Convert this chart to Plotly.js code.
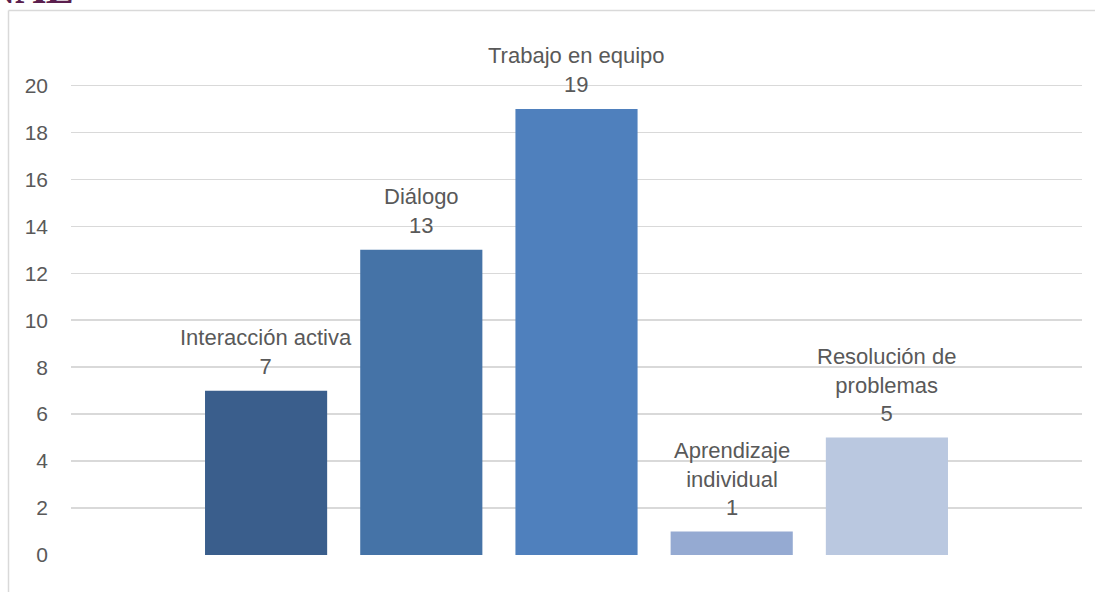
<!DOCTYPE html>
<html>
<head>
<meta charset="utf-8">
<script src="https://cdn.plot.ly/plotly-3.0.1.min.js"></script>
<style>
html,body{margin:0;padding:0;background:#fff;}
#chart{width:1095px;height:592px;}
</style>
</head>
<body>
<div id="chart"></div>
<script>
const categories = ["Interacción activa", "Diálogo", "Trabajo en equipo", "Aprendizaje individual", "Resolución de problemas"];
const labelLines = ["Interacción activa", "Diálogo", "Trabajo en equipo", "Aprendizaje<br>individual", "Resolución de<br>problemas"];
const values = [7, 13, 19, 1, 5];
const barColors = ["#3a5e8c", "#4573a7", "#4f80bd", "#95aad2", "#bac8e0"];
const yTicks = [0, 2, 4, 6, 8, 10, 12, 14, 16, 18, 20];

const textColor = "#595959";
const fontFamily = "Liberation Sans, Arial, sans-serif";

const L = 71, R = 13, T = 62, B = 37, W = 1095, H = 592;
const pw = W - L - R, ph = H - T - B;
const px = v => (v - L) / pw;
const py = v => (H - B - v) / ph;

const trace = {
  type: "bar",
  x: categories,
  y: values,
  marker: {color: barColors, line: {width: 0}},
  hoverinfo: "none"
};

const annotations = categories.map((c, i) => ({
  x: c, y: values[i], xref: "x", yref: "y",
  text: labelLines[i] + "<br>" + values[i],
  showarrow: false, yanchor: "bottom", xanchor: "center",
  yshift: 10,
  font: {family: fontFamily, size: 22, color: textColor}
}));

annotations.push({
  xref: "paper", yref: "paper", x: px(76), y: py(14),
  xanchor: "right", yanchor: "bottom", showarrow: false,
  text: "<b>NAL</b>",
  font: {family: "Liberation Serif, serif", size: 42, color: "#5b1f4e"}
});

const layout = {
  width: W, height: H,
  margin: {l: L, r: R, t: T, b: B, pad: 0},
  paper_bgcolor: "#ffffff", plot_bgcolor: "#ffffff",
  showlegend: false,
  bargap: 0.213,
  font: {family: fontFamily, size: 21, color: textColor},
  xaxis: {
    type: "category",
    range: [-1.257, 5.257],
    showticklabels: false, showgrid: false, zeroline: false, showline: false, ticks: ""
  },
  yaxis: {
    range: [0, 21],
    tickvals: yTicks,
    ticktext: yTicks.map(String),
    showgrid: true, gridcolor: "#d9d9d9", gridwidth: 1.5,
    zeroline: false, showline: false, ticks: "",
    ticklabelstandoff: 22,
    tickfont: {family: fontFamily, size: 21, color: textColor}
  },
  annotations: annotations,
  shapes: [
    {type: "line", xref: "paper", yref: "paper", x0: px(8.5), x1: px(1095), y0: py(10.5), y1: py(10.5),
     line: {color: "#d9d9d9", width: 1.5}},
    {type: "line", xref: "paper", yref: "paper", x0: px(8.5), x1: px(8.5), y0: py(10.5), y1: py(592),
     line: {color: "#d9d9d9", width: 1.5}}
  ]
};

Plotly.newPlot("chart", [trace], layout, {staticPlot: true, displayModeBar: false});
</script>
</body>
</html>
